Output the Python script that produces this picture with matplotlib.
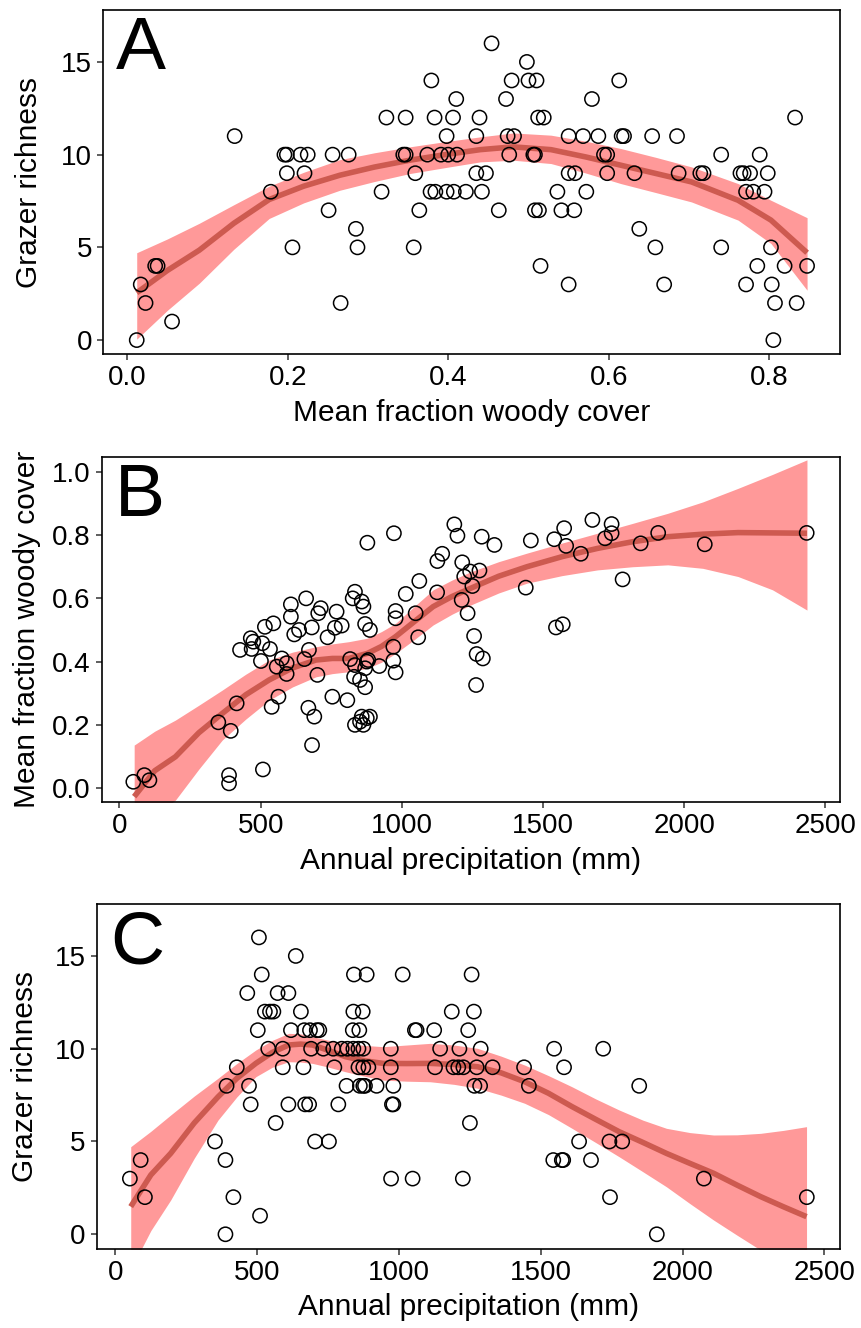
import matplotlib
matplotlib.use("Agg")
import matplotlib.pyplot as plt
import numpy as np

plt.rcParams['font.family'] = ['Liberation Sans', 'DejaVu Sans']

# ---- Panel A: grazer richness vs mean woody cover ----
a_cover = [0.012, 0.017, 0.023, 0.035, 0.038, 0.056, 0.134, 0.179, 0.196, 0.199,
           0.199, 0.206, 0.216, 0.225, 0.221, 0.256, 0.251, 0.266, 0.276, 0.285,
           0.287, 0.317, 0.323, 0.347, 0.344, 0.347, 0.359, 0.364, 0.357, 0.374,
           0.379, 0.383, 0.378, 0.384, 0.391, 0.398, 0.398, 0.407, 0.400, 0.411,
           0.406, 0.410, 0.422, 0.435, 0.439, 0.435, 0.447, 0.442, 0.454, 0.463,
           0.472, 0.476, 0.474, 0.482, 0.479, 0.498, 0.500, 0.510, 0.506, 0.508,
           0.512, 0.519, 0.508, 0.513, 0.515, 0.536, 0.541, 0.557, 0.550, 0.568,
           0.550, 0.558, 0.550, 0.572, 0.579, 0.587, 0.594, 0.598, 0.598, 0.613,
           0.616, 0.619, 0.632, 0.638, 0.654, 0.658, 0.669, 0.685, 0.687, 0.714,
           0.718, 0.740, 0.740, 0.764, 0.768, 0.776, 0.771, 0.780, 0.794, 0.788,
           0.798, 0.771, 0.785, 0.802, 0.803, 0.807, 0.805, 0.819, 0.832, 0.834,
           0.847]
a_rich = [0, 3, 2, 4, 4, 1, 11, 8, 10, 10,
          9, 5, 10, 10, 9, 10, 7, 2, 10, 6,
          5, 8, 12, 12, 10, 10, 9, 7, 5, 10,
          14, 12, 8, 8, 10, 11, 8, 8, 10, 10,
          12, 13, 8, 11, 12, 9, 9, 8, 16, 7,
          13, 10, 11, 11, 14, 15, 14, 14, 10, 10,
          12, 12, 7, 7, 4, 8, 7, 7, 11, 11,
          9, 9, 3, 8, 13, 11, 10, 10, 9, 14,
          11, 11, 9, 6, 11, 5, 3, 11, 9, 9,
          9, 10, 5, 9, 9, 9, 8, 8, 8, 10,
          9, 3, 4, 5, 3, 2, 0, 4, 12, 2,
          4]

# smoother (fit and confidence band)
a_fit_x = [0.012, 0.050, 0.090, 0.133, 0.177, 0.220, 0.265, 0.308, 0.352, 0.396,
           0.440, 0.481, 0.528, 0.572, 0.615, 0.659, 0.703, 0.761, 0.802, 0.847]
a_fit = [2.55, 3.75, 4.85, 6.3, 7.58, 8.3, 8.89, 9.33, 9.7, 10.0,
         10.27, 10.42, 10.27, 9.87, 9.43, 8.98, 8.53, 7.54, 6.47, 4.71]
a_lo = [0.05, 1.6, 3.07, 4.9, 6.56, 7.4, 8.08, 8.55, 8.98, 9.3,
        9.61, 9.7, 9.52, 9.0, 8.44, 7.95, 7.45, 6.47, 5.21, 2.69]
a_hi = [4.71, 5.45, 6.3, 7.3, 8.3, 9.05, 9.73, 10.1, 10.42, 10.7,
        10.96, 11.17, 11.05, 10.72, 10.33, 9.85, 9.34, 8.44, 7.54, 6.6]

# ---- Panel B: woody cover vs precipitation ----
b_precip = [49, 88, 106, 350, 394, 415, 388, 388, 508, 427,
            465, 474, 468, 506, 501, 533, 515, 545, 575, 557,
            592, 592, 607, 607, 619, 636, 661, 681, 704, 713,
            671, 655, 701, 737, 769, 763, 787, 563, 539, 669,
            690, 682, 754, 807, 817, 834, 834, 826, 831, 852,
            834, 852, 864, 876, 887, 858, 858, 864, 870, 887,
            878, 972, 876, 881, 870, 920, 870, 970, 970, 978,
            978, 978, 1014, 1049, 1058, 1062, 1125, 1126, 1143, 1186,
            1197, 1214, 1212, 1221, 1242, 1250, 1275, 1233, 1256, 1265,
            1287, 1263, 1283, 1328, 1439, 1457, 1546, 1570, 1540, 1575,
            1582, 1634, 1675, 1743, 1743, 1720, 1782, 1846, 1908, 2073,
            2434]
b_cover = [0.020, 0.041, 0.025, 0.208, 0.181, 0.268, 0.041, 0.015, 0.059, 0.437,
           0.474, 0.463, 0.440, 0.458, 0.402, 0.440, 0.510, 0.521, 0.410, 0.384,
           0.395, 0.361, 0.581, 0.542, 0.486, 0.500, 0.600, 0.508, 0.553, 0.569,
           0.437, 0.408, 0.358, 0.477, 0.558, 0.507, 0.514, 0.289, 0.257, 0.254,
           0.226, 0.136, 0.289, 0.278, 0.408, 0.389, 0.621, 0.600, 0.352, 0.342,
           0.200, 0.210, 0.200, 0.221, 0.226, 0.226, 0.590, 0.574, 0.519, 0.500,
           0.776, 0.806, 0.400, 0.405, 0.379, 0.386, 0.319, 0.447, 0.403, 0.366,
           0.560, 0.537, 0.614, 0.553, 0.477, 0.655, 0.619, 0.718, 0.741, 0.834,
           0.798, 0.714, 0.595, 0.669, 0.685, 0.639, 0.688, 0.553, 0.481, 0.424,
           0.410, 0.326, 0.795, 0.769, 0.634, 0.783, 0.508, 0.518, 0.787, 0.822,
           0.766, 0.741, 0.848, 0.835, 0.806, 0.790, 0.660, 0.774, 0.807, 0.771,
           0.807]

b_fit_x = [52, 125, 198, 281, 364, 447, 530, 613, 696, 754,
           812, 878, 928, 978, 1045, 1111, 1178, 1244, 1343, 1443,
           1568, 1693, 1817, 1942, 2066, 2191, 2313, 2435]
b_fit = [-0.027, 0.055, 0.099, 0.175, 0.236, 0.295, 0.342, 0.38, 0.405, 0.41,
         0.41, 0.426, 0.448, 0.479, 0.527, 0.574, 0.606, 0.632, 0.67, 0.70,
         0.732, 0.758, 0.779, 0.795, 0.803, 0.808, 0.807, 0.806]
b_lo = [-0.17, -0.085, -0.038, 0.06, 0.152, 0.218, 0.278, 0.32, 0.352, 0.362,
        0.368, 0.379, 0.398, 0.426, 0.47, 0.516, 0.55, 0.579, 0.617, 0.648,
        0.672, 0.69, 0.70, 0.706, 0.695, 0.669, 0.627, 0.563]
b_hi = [0.136, 0.18, 0.215, 0.262, 0.31, 0.36, 0.405, 0.43, 0.447, 0.456,
        0.463, 0.474, 0.495, 0.521, 0.575, 0.627, 0.658, 0.684, 0.716, 0.743,
        0.775, 0.806, 0.837, 0.869, 0.905, 0.948, 0.992, 1.038]

# ---- Panel C: grazer richness vs precipitation ----
c_precip = [51, 89, 104, 351, 388, 388, 416, 392, 428, 471,
            477, 510, 565, 465, 506, 516, 502, 539, 527, 545,
            557, 572, 610, 636, 590, 590, 619, 654, 610, 663,
            666, 686, 710, 719, 669, 683, 690, 704, 753, 733,
            768, 798, 818, 772, 786, 815,
            841, 886, 1013, 1256, 839, 872, 1186, 1264, 837, 860,
            1056, 1062, 1124, 1244,
            839, 857, 874, 971, 1145, 1213, 1288, 1547, 1720,
            857, 874, 892, 971, 1127, 1192, 1209, 1227, 1274, 1330, 1441, 1582,
            862, 874, 880, 921, 980, 1266, 1286, 1458, 1847,
            975, 980, 1250, 1635, 1742, 1787,
            1544, 1574, 1579, 1677, 972, 1048, 1225, 2075, 1744, 2438, 1909]
c_rich = [3, 4, 2, 5, 4, 0, 2, 8, 9, 8,
          7, 1, 6, 13, 16, 14, 11, 10, 12, 12,
          12, 13, 13, 15, 10, 9, 11, 12, 7, 9,
          11, 11, 11, 11, 7, 7, 10, 5, 5, 10,
          10, 10, 10, 9, 7, 8,
          14, 14, 14, 14, 12, 12, 12, 12, 11, 11,
          11, 11, 11, 11,
          10, 10, 10, 10, 10, 10, 10, 10, 10,
          9, 9, 9, 9, 9, 9, 9, 9, 9, 9, 9, 9,
          8, 8, 8, 8, 8, 8, 8, 8, 8,
          7, 7, 6, 5, 5, 5,
          4, 4, 4, 4, 3, 3, 3, 3, 2, 2, 0]

c_fit_x = [54, 125, 195, 278, 362, 428, 495, 553, 611, 653,
           695, 753, 811, 878, 944, 1027, 1110, 1194, 1277, 1360,
           1443, 1527, 1610, 1693, 1776, 1860, 1943, 2026, 2109, 2192,
           2275, 2356, 2437]
c_fit = [1.49, 3.2, 4.36, 6.0, 7.41, 8.4, 9.21, 9.8, 10.2, 10.25,
         10.2, 9.9, 9.57, 9.35, 9.21, 9.2, 9.21, 9.15, 9.03, 8.7,
         8.22, 7.6, 6.88, 6.2, 5.53, 4.95, 4.36, 3.82, 3.29, 2.65,
         2.03, 1.48, 0.95]
c_lo = [-1.9, 0.2, 1.85, 4.1, 6.16, 7.4, 8.49, 9.0, 9.3, 9.28,
        9.21, 9.0, 8.76, 8.52, 8.31, 8.25, 8.22, 8.08, 7.87, 7.5,
        7.06, 6.45, 5.71, 4.95, 4.18, 3.37, 2.56, 1.65, 0.77, -0.05,
        -0.85, -2.1, -3.5]
c_hi = [4.72, 5.55, 6.43, 7.45, 8.41, 9.2, 9.93, 10.45, 10.83, 10.8,
        10.65, 10.45, 10.29, 10.18, 10.11, 10.2, 10.29, 10.2, 10.02, 9.6,
        9.12, 8.55, 7.95, 7.3, 6.7, 6.15, 5.71, 5.48, 5.35, 5.36,
        5.44, 5.6, 5.8]

fig = plt.figure(figsize=(8.61, 13.28), dpi=100)
H = 1328.0
W = 861.0


def make_ax(l, t, r, b):
    return fig.add_axes([l / W, 1 - b / H, (r - l) / W, (b - t) / H])


axA = make_ax(103, 10, 840, 354)
axB = make_ax(101.7, 456.7, 840, 801.7)
axC = make_ax(96.7, 904, 840, 1249.3)

band_col = '#ff9999'
line_col = '#cd5a50'


def panel(ax, x, y, fx, fy, lo, hi, letter):
    ax.fill_between(fx, lo, hi, color=band_col, lw=0, zorder=1)
    ax.plot(fx, fy, color=line_col, lw=4, zorder=2, solid_capstyle='butt',
            solid_joinstyle='round')
    ax.scatter(x, y, s=105, facecolors='none', edgecolors='black',
               linewidths=1.1, zorder=3)
    for sp in ax.spines.values():
        sp.set_linewidth(1.2)
        sp.set_color('black')
    ax.tick_params(direction='out', length=4, width=1.1, color='#333333',
                   labelsize=20, labelcolor='black', pad=4)
    ax.text(0.018, 0.985, letter, transform=ax.transAxes, fontsize=54,
            va='top', ha='left')


panel(axA, a_cover, a_rich, a_fit_x, a_fit, a_lo, a_hi, 'A')
axA.set_xlim(-0.030, 0.888)
axA.set_ylim(-0.75, 17.8)
axA.set_xticks([0.0, 0.2, 0.4, 0.6, 0.8])
axA.set_xticklabels(['0.0', '0.2', '0.4', '0.6', '0.8'])
axA.set_yticks([0, 5, 10, 15])
axA.set_xlabel('Mean fraction woody cover', fontsize=21.5, labelpad=6)
axA.set_ylabel('Grazer richness', fontsize=21.5, labelpad=13)

panel(axB, b_precip, b_cover, b_fit_x, b_fit, b_lo, b_hi, 'B')
axB.set_xlim(-63, 2552)
axB.set_ylim(-0.043, 1.048)
axB.set_xticks([0, 500, 1000, 1500, 2000, 2500])
axB.set_yticks([0.0, 0.2, 0.4, 0.6, 0.8, 1.0])
axB.set_yticklabels(['0.0', '0.2', '0.4', '0.6', '0.8', '1.0'])
axB.set_xlabel('Annual precipitation (mm)', fontsize=21.5, labelpad=6)
axB.set_ylabel('Mean fraction woody cover', fontsize=21.5, labelpad=8)

panel(axC, c_precip, c_rich, c_fit_x, c_fit, c_lo, c_hi, 'C')
axC.set_xlim(-66, 2555)
axC.set_ylim(-0.81, 17.8)
axC.set_xticks([0, 500, 1000, 1500, 2000, 2500])
axC.set_yticks([0, 5, 10, 15])
axC.set_xlabel('Annual precipitation (mm)', fontsize=21.5, labelpad=5)
axC.set_ylabel('Grazer richness', fontsize=21.5, labelpad=11)

fig.savefig('out.png', dpi=100)
